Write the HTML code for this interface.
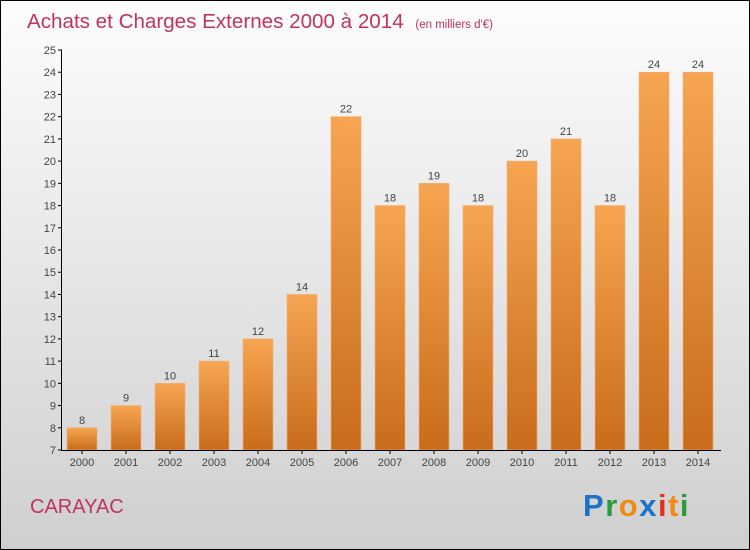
<!DOCTYPE html>
<html><head><meta charset="utf-8"><style>
body{margin:0}
#c{width:748px;height:548px;border:1px solid #000;position:relative;background:linear-gradient(#fdfdfd,#cfcfcf);font-family:"Liberation Sans",sans-serif;overflow:hidden}
</style></head><body>
<div id="c">
<svg width="748" height="548" viewBox="1 1 748 548" style="position:absolute;left:0;top:0">
<defs><linearGradient id="bg" x1="0" y1="0" x2="0" y2="1"><stop offset="0" stop-color="#f7a552"/><stop offset="1" stop-color="#c86c1c"/></linearGradient></defs>
<text x="27" y="28" font-size="20.6" fill="#c0335e">Achats et Charges Externes 2000 à 2014 <tspan font-size="11.5" dx="6">(en milliers d'€)</tspan></text>
<g id="g"></g>
<text x="30" y="513" font-size="20" fill="#c0335e">CARAYAC</text>
<text x="583" y="516" font-size="31" font-weight="bold" letter-spacing="1.5"><tspan fill="#1a73c8">P</tspan><tspan fill="#2a9a3a">r</tspan><tspan fill="#f08a10">o</tspan><tspan fill="#1a73c8">x</tspan><tspan fill="#e0301c">i</tspan><tspan fill="#f08a10">t</tspan><tspan fill="#2a9a3a">i</tspan></text>
</svg>
</div>
<script>
const years=["2000","2001","2002","2003","2004","2005","2006","2007","2008","2009","2010","2011","2012","2013","2014"];
const values=[8,9,10,11,12,14,22,18,19,18,20,21,18,24,24];
const yTicks=[7,8,9,10,11,12,13,14,15,16,17,18,19,20,21,22,23,24,25];
const NS="http://www.w3.org/2000/svg",g=document.getElementById('g');
const y=v=>450-(v-7)*(400/18), x=i=>82+i*44;
function el(t,a,p){const e=document.createElementNS(NS,t);for(const k in a)e.setAttribute(k,a[k]);(p||g).appendChild(e);return e;}
yTicks.forEach(v=>{
 const t=el('line',{x1:58,x2:62,y1:y(v),y2:y(v),stroke:'#000'});
 
 
 const l=el('text',{x:56,y:y(v)+4,'font-size':11,'text-anchor':'end',fill:'#444'});l.textContent=v;
 
 
});
values.forEach((v,i)=>{
 const b=el('rect',{x:x(i)-15,y:y(v),width:30,height:450-y(v),fill:'url(#bg)',stroke:'#f4b070','stroke-width':0.6});
 
 
 const l=el('text',{x:x(i),y:y(v)-4,'font-size':11,'text-anchor':'middle',fill:'#444'});l.textContent=v;
 
 
 const t=el('line',{x1:x(i),x2:x(i),y1:450,y2:454,stroke:'#000'});
 
 
 const yl=el('text',{x:x(i),y:466,'font-size':11,'text-anchor':'middle',fill:'#444'});yl.textContent=years[i];
 
 
});
const ya=el('line',{x1:61.5,x2:61.5,y1:y(25),y2:450,stroke:'#000'});


const xa=el('line',{x1:61,x2:721,y1:450.5,y2:450.5,stroke:'#000'});


</script>
</body></html>
